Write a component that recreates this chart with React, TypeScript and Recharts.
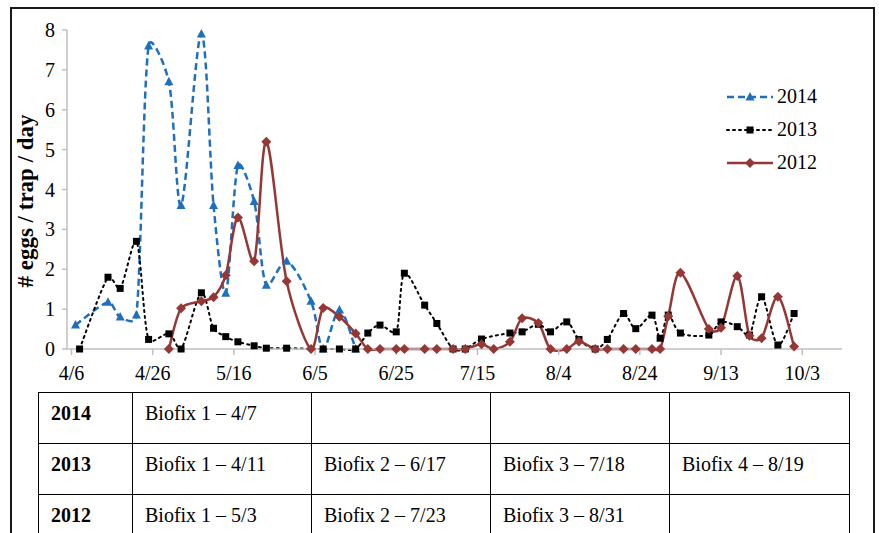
import React from "react";
import { LineChart, Line, XAxis, YAxis } from "recharts";

// days counted from 4/6
const tickDays = [0, 20, 40, 60, 80, 100, 120, 140, 160, 180];
const tickLabels = ["4/6", "4/26", "5/16", "6/5", "6/25", "7/15", "8/4", "8/24", "9/13", "10/3"];
const yTicks = [0, 1, 2, 3, 4, 5, 6, 7, 8];

const days2014 = [1, 9, 12, 16, 19, 24, 27, 32, 35, 38, 41, 45, 48, 53, 59, 62, 66, 70];
const eggs2014 = [0.6, 1.17, 0.8, 0.85, 7.6, 6.7, 3.6, 7.9, 3.6, 1.4, 4.6, 3.7, 1.6, 2.2, 1.2, 0, 0.98, 0];

const days2013 = [2, 9, 12, 16, 19, 24, 27, 32, 35, 38, 41, 45, 48, 53, 62, 66, 70, 73, 76, 80, 82, 87, 90, 94, 97, 101, 108, 111, 115, 118, 122, 125, 129, 132, 136, 139, 143, 145, 147, 150, 157, 160, 164, 167, 170, 174, 178];
const eggs2013 = [0, 1.8, 1.52, 2.7, 0.24, 0.38, 0, 1.41, 0.52, 0.31, 0.18, 0.08, 0.02, 0.02, 0, 0, 0, 0.4, 0.6, 0.43, 1.9, 1.1, 0.64, 0, 0, 0.25, 0.4, 0.43, 0.62, 0.43, 0.68, 0.24, 0, 0.24, 0.89, 0.51, 0.85, 0.27, 0.85, 0.4, 0.35, 0.68, 0.56, 0.35, 1.31, 0.1, 0.89];

const days2012 = [24, 27, 32, 35, 38, 41, 45, 48, 53, 59, 62, 66, 70, 73, 76, 80, 82, 87, 90, 94, 97, 101, 104, 108, 111, 115, 118, 122, 125, 129, 132, 136, 139, 143, 145, 147, 150, 157, 160, 164, 167, 170, 174, 178];
const eggs2012 = [0, 1.02, 1.2, 1.3, 1.85, 3.3, 2.2, 5.2, 1.7, 0, 1.03, 0.81, 0.39, 0, 0, 0, 0, 0, 0, 0, 0, 0.12, 0, 0.18, 0.77, 0.65, 0, 0, 0.19, 0, 0, 0, 0, 0, 0, 0.82, 1.91, 0.5, 0.53, 1.83, 0.33, 0.27, 1.31, 0.06];

const tableYears = ["2014", "2013", "2012"];
const biofix2014 = ["Biofix 1 \u2013 4/7", "", "", ""];
const biofix2013 = ["Biofix 1 \u2013 4/11", "Biofix 2 \u2013 6/17", "Biofix 3 \u2013 7/18", "Biofix 4 \u2013 8/19"];
const biofix2012 = ["Biofix 1 \u2013 5/3", "Biofix 2 \u2013 7/23", "Biofix 3 \u2013 8/31", ""];

const BLUE = "#1f6fbf";
const RED = "#953735";
const FONT = "Liberation Serif, Times New Roman, serif";

const toRows = (days: number[], vals: number[]) => days.map((d, i) => ({ d, v: vals[i] }));

// Excel-like smoothing: Catmull-Rom tangents (1/6), shortened next to a much longer neighbour side
const excelSmooth = (ctx: any) => {
  let pts: number[][] = [];
  const len = (a: number[], b: number[]) => Math.hypot(b[0] - a[0], b[1] - a[1]) || 1e-6;
  return {
    areaStart() {},
    areaEnd() {},
    lineStart() {
      pts = [];
    },
    point(x: number, y: number) {
      pts.push([+x, +y]);
    },
    lineEnd() {
      if (!pts.length) return;
      const n = pts.length;
      ctx.moveTo(pts[0][0], pts[0][1]);
      for (let i = 0; i < n - 1; i++) {
        const p0 = pts[Math.max(0, i - 1)];
        const p1 = pts[i];
        const p2 = pts[i + 1];
        const p3 = pts[Math.min(n - 1, i + 2)];
        const d12 = len(p1, p2);
        const d01 = i === 0 ? d12 : len(p0, p1);
        const d23 = i + 2 > n - 1 ? d12 : len(p2, p3);
        const s1 = Math.min(1, Math.sqrt(d12 / d01)) / 6;
        const s2 = Math.min(1, Math.sqrt(d12 / d23)) / 6;
        ctx.bezierCurveTo(
          p1[0] + (p2[0] - p0[0]) * s1,
          p1[1] + (p2[1] - p0[1]) * s1,
          p2[0] - (p3[0] - p1[0]) * s2,
          p2[1] - (p3[1] - p1[1]) * s2,
          p2[0],
          p2[1]
        );
      }
    },
  };
};

const triangle = (cx: number, cy: number, key?: any) => (
  <path key={key} d={`M${cx},${cy - 5}L${cx + 4.5},${cy + 3.5}L${cx - 4.5},${cy + 3.5}Z`} fill={BLUE} />
);
const square = (cx: number, cy: number, key?: any) => (
  <rect key={key} x={cx - 3.5} y={cy - 3.5} width={7} height={7} fill="#000" />
);
const diamond = (cx: number, cy: number, key?: any) => (
  <path key={key} d={`M${cx},${cy - 5}L${cx + 5},${cy}L${cx},${cy + 5}L${cx - 5},${cy}Z`} fill={RED} />
);

const series = [
  { name: "2014", color: BLUE, dash: "7 4", width: 2.5, mark: triangle },
  { name: "2013", color: "#000", dash: "2 4", width: 2, mark: square },
  { name: "2012", color: RED, dash: undefined, width: 2.5, mark: diamond },
];

const LegendBox = () => (
  <div style={{ position: "absolute", left: 726, top: 80, fontFamily: FONT, fontSize: 20, color: "#000" }}>
    {series.map((s) => (
      <div key={s.name} style={{ display: "flex", alignItems: "center", height: 33 }}>
        <svg width={50} height={20}>
          <line x1={1} y1={10} x2={47} y2={10} stroke={s.color} strokeWidth={s.width} strokeDasharray={s.dash} strokeLinecap={s.dash === "2 4" ? "round" : "butt"} />
          {s.mark(24, 10)}
        </svg>
        <span style={{ marginLeft: 1, fontFamily: FONT }}>{s.name}</span>
      </div>
    ))}
  </div>
);

const tickStyle = { fill: "#000", fontSize: 20, fontFamily: FONT, style: { fontFamily: FONT } };

const YLabel = () => (
  <text
    x={33}
    y={201}
    transform="rotate(-90, 33, 201)"
    textAnchor="middle"
    style={{ fontSize: 23, fontWeight: "bold", fontFamily: FONT, fill: "#000" }}
  >
    # eggs / trap / day
  </text>
);

const cellStyle: React.CSSProperties = {
  border: "1.5px solid #000",
  height: 51,
  boxSizing: "border-box",
  padding: "9px 12px 0 12px",
  verticalAlign: "top",
  fontSize: 20,
  lineHeight: "23px",
};

export default function App() {
  const rows = [biofix2014, biofix2013, biofix2012];
  return (
    <div style={{ position: "absolute", left: 0, top: 0, width: 879, height: 533, overflow: "hidden", background: "#fff", fontFamily: FONT }}>
      <div style={{ position: "absolute", left: 10, top: 7, width: 865, height: 560, border: "2px solid #1a1a1a", boxSizing: "border-box" }} />
      <div style={{ position: "absolute", left: 0, top: 0, fontFamily: FONT }}>
        <LineChart width={879} height={395} margin={{ top: 30, right: 37, left: 0, bottom: 0 }} style={{ fontFamily: FONT }}>
          <XAxis
            dataKey="d"
            type="number"
            domain={[-1.1, 189.8]}
            ticks={tickDays}
            interval={0}
            allowDataOverflow
            tickFormatter={(d: number) => tickLabels[tickDays.indexOf(d)]}
            stroke="#bfbfbf"
            strokeWidth={1.5}
            tickSize={6}
            tickMargin={11}
            height={46}
            tick={tickStyle}
          />
          <YAxis
            domain={[0, 8]}
            ticks={yTicks}
            interval={0}
            width={67}
            stroke="#bfbfbf"
            strokeWidth={1.5}
            tickSize={5}
            tickMargin={7}
            tick={tickStyle}
            label={{ content: () => <YLabel /> }}
          />
          {series.map((s, k) => (
            <Line
              key={s.name}
              data={toRows([days2014, days2013, days2012][k], [eggs2014, eggs2013, eggs2012][k])}
              dataKey="v"
              name={s.name}
              type={excelSmooth as any}
              stroke={s.color}
              strokeWidth={s.width}
              strokeDasharray={s.dash}
              strokeLinecap={s.dash === "2 4" ? "round" : "butt"}
              dot={(p: any) => s.mark(p.cx, p.cy, `${s.name}-${p.index}`)}
              activeDot={false}
              isAnimationActive={false}
            />
          ))}
        </LineChart>
      </div>
      <LegendBox />
      <table style={{ position: "absolute", left: 38, top: 392, borderCollapse: "collapse", fontFamily: FONT, color: "#000" }}>
        <tbody>
          {rows.map((r, i) => (
            <tr key={tableYears[i]}>
              <td style={{ ...cellStyle, width: 94, fontWeight: "bold" }}>{tableYears[i]}</td>
              {r.map((c, j) => (
                <td key={j} style={{ ...cellStyle, width: j === 3 ? 180 : 179 }}>{c}</td>
              ))}
            </tr>
          ))}
        </tbody>
      </table>
    </div>
  );
}
